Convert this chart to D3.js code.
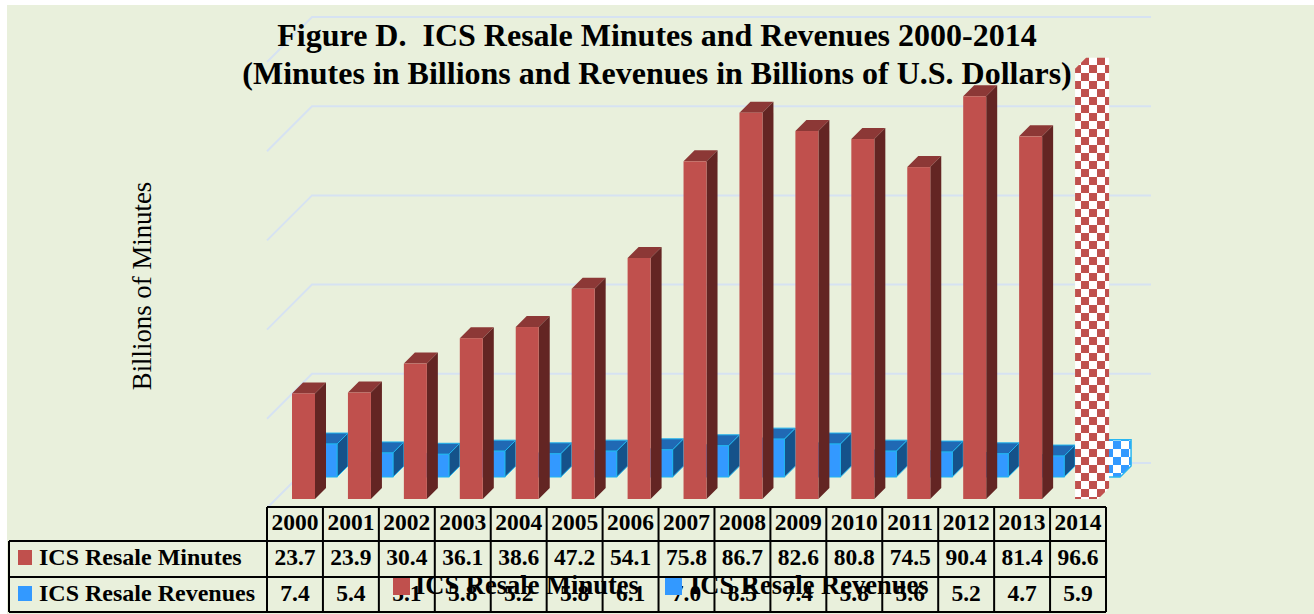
<!DOCTYPE html>
<html><head><meta charset="utf-8">
<script src="https://cdn.jsdelivr.net/npm/d3@7/dist/d3.min.js"></script>
<style>html,body{margin:0;padding:0;background:#fff;overflow:hidden}svg{display:block}text{font-family:"Liberation Serif",serif;fill:#000}</style>
</head><body><svg id="c" width="1314" height="614"></svg>
<script>
const years=["2000","2001","2002","2003","2004","2005","2006","2007","2008","2009","2010","2011","2012","2013","2014"];
const minutes=[23.7,23.9,30.4,36.1,38.6,47.2,54.1,75.8,86.7,82.6,80.8,74.5,90.4,81.4,96.6];
const revenues=[7.4,5.4,5.1,5.8,5.2,5.8,6.1,7.0,8.5,7.4,5.8,5.6,5.2,4.7,5.9];
const gridTicks=[0,20,40,60,80,100];
const seriesNames=["ICS Resale Minutes","ICS Resale Revenues"];
const titleLines=["Figure D.  ICS Resale Minutes and Revenues 2000-2014","(Minutes in Billions and Revenues in Billions of U.S. Dollars)"];
const yTitle="Billions of Minutes";

const svg=d3.select("#c");
svg.append("rect").attr("x",7).attr("y",5).attr("width",1307).attr("height",609).attr("fill","#E9F0DC");

const x=d3.scaleBand().domain(years).range([267,1106]);
const yUnit=d3.scaleLinear().domain([0,100]).range([0,445.5]);
const yBack=d3.scaleLinear().domain([0,100]).range([463,17]);
const depth=11, barW=23, redOff=25, redBase=499, blueShift=22, blueBase=477;

const defs=svg.append("defs");
function checker(id,col){
  const p=defs.append("pattern").attr("id",id).attr("patternUnits","userSpaceOnUse").attr("width",16).attr("height",16).attr("x",1075).attr("y",57);
  p.append("rect").attr("width",16).attr("height",16).attr("fill","#fff");
  p.append("rect").attr("x",6).attr("width",8).attr("height",8).attr("fill",col);
  p.append("rect").attr("x",14).attr("width",2).attr("y",8).attr("height",8).attr("fill",col);
  p.append("rect").attr("x",0).attr("width",6).attr("y",8).attr("height",8).attr("fill",col);
}
checker("chkR","#C0504D"); checker("chkB","#3399FF");

const g=svg.append("g");
g.selectAll("polyline").data(gridTicks).join("polyline")
 .attr("points",d=>`267,${yBack(d)+45} 312,${yBack(d)} 1151,${yBack(d)}`)
 .attr("fill","none").attr("stroke","#D6E2F2").attr("stroke-width",2);

function bar(parent,xl,base,val,col,stroke){
  const h=yUnit(val), t=base-h, r=xl+barW, d=depth;
  const s=parent.append("g");
  const st=stroke||"none";
  s.append("path").attr("d",`M${xl},${t}L${xl+d},${t-d}L${r+d},${t-d}L${r},${t}Z`).attr("fill",col[1]).attr("stroke",st);
  s.append("path").attr("d",`M${r},${t}L${r+d},${t-d}L${r+d},${base-d}L${r},${base}Z`).attr("fill",col[2]).attr("stroke",st);
  s.append("rect").attr("x",xl).attr("y",t).attr("width",barW).attr("height",h).attr("fill",col[0]).attr("stroke",st);
}
function flatBar(parent,xl,base,val,fill,stroke){
  const h=yUnit(val), t=base-h, r=xl+barW, d=depth;
  parent.append("path").attr("d",`M${xl},${t}L${xl+d},${t-d}L${r+d},${t-d}L${r+d},${base-d}L${r},${base}L${xl},${base}Z`)
    .attr("fill",fill).attr("stroke",stroke||"none").attr("stroke-width",stroke?1.5:0);
}
const redCols=["#C0504D","#8C3836","#632523"], blueCols=["#3399FF","#2069B4","#15528A"];
const blue=svg.append("g"), red=svg.append("g");
years.forEach((y,i)=>{
  const xr=x(y)+redOff, xb=xr+blueShift;
  if(y==="2014") flatBar(blue,xb,blueBase,revenues[i],"url(#chkB)","#29B6F0");
  else bar(blue,xb,blueBase,revenues[i],blueCols,"#1FB4EE");
  if(y==="2014") flatBar(red,xr,redBase,minutes[i],"url(#chkR)");
  else bar(red,xr,redBase,minutes[i],redCols);
});

const rowY=[507,541,577,612], labelX=9, tbl=svg.append("g");
const ln=(a,b,c,d)=>tbl.append("line").attr("x1",a).attr("y1",b).attr("x2",c).attr("y2",d).attr("stroke","#000").attr("stroke-width",2);
const L=x.range()[0], R=x.range()[1];
ln(L,rowY[0],R,rowY[0]);
rowY.slice(1).forEach(v=>ln(labelX,v,R,v));
ln(labelX,rowY[1],labelX,rowY[3]);
years.forEach(y=>ln(x(y),rowY[0],x(y),rowY[3]));
ln(R,rowY[0],R,rowY[3]);
const cell=(t,cx,cy)=>tbl.append("text").attr("x",cx).attr("y",cy).attr("text-anchor","middle").attr("font-size",23.5).attr("font-weight","bold").text(t);
years.forEach((y,i)=>{
  const c=x(y)+x.bandwidth()/2;
  cell(y,c,530); cell(minutes[i].toFixed(1),c,565); cell(revenues[i].toFixed(1),c,601);
});
[redCols[0],blueCols[0]].forEach((c,i)=>{
  const yy=[550,586][i];
  tbl.append("rect").attr("x",18).attr("y",yy).attr("width",14).attr("height",15).attr("fill",c);
  tbl.append("text").attr("x",39).attr("y",yy+15).attr("font-size",24).attr("font-weight","bold").text(seriesNames[i]);
});

svg.append("g").selectAll("text").data(titleLines).join("text")
 .attr("x",657).attr("y",(d,i)=>46+i*38).attr("text-anchor","middle").attr("font-size",32).attr("font-weight","bold").style("white-space","pre").text(d=>d);
svg.append("text").attr("transform","translate(151,286) rotate(-90)").attr("text-anchor","middle").attr("font-size",26.8).text(yTitle);
[[393,415,redCols[0]],[665,690,blueCols[0]]].forEach((a,i)=>{
  svg.append("rect").attr("x",a[0]).attr("y",578).attr("width",17).attr("height",17).attr("fill",a[2]);
  svg.append("text").attr("x",a[1]).attr("y",594).attr("font-size",26.5).attr("font-weight","bold").text(seriesNames[i]);
});
</script></body></html>
